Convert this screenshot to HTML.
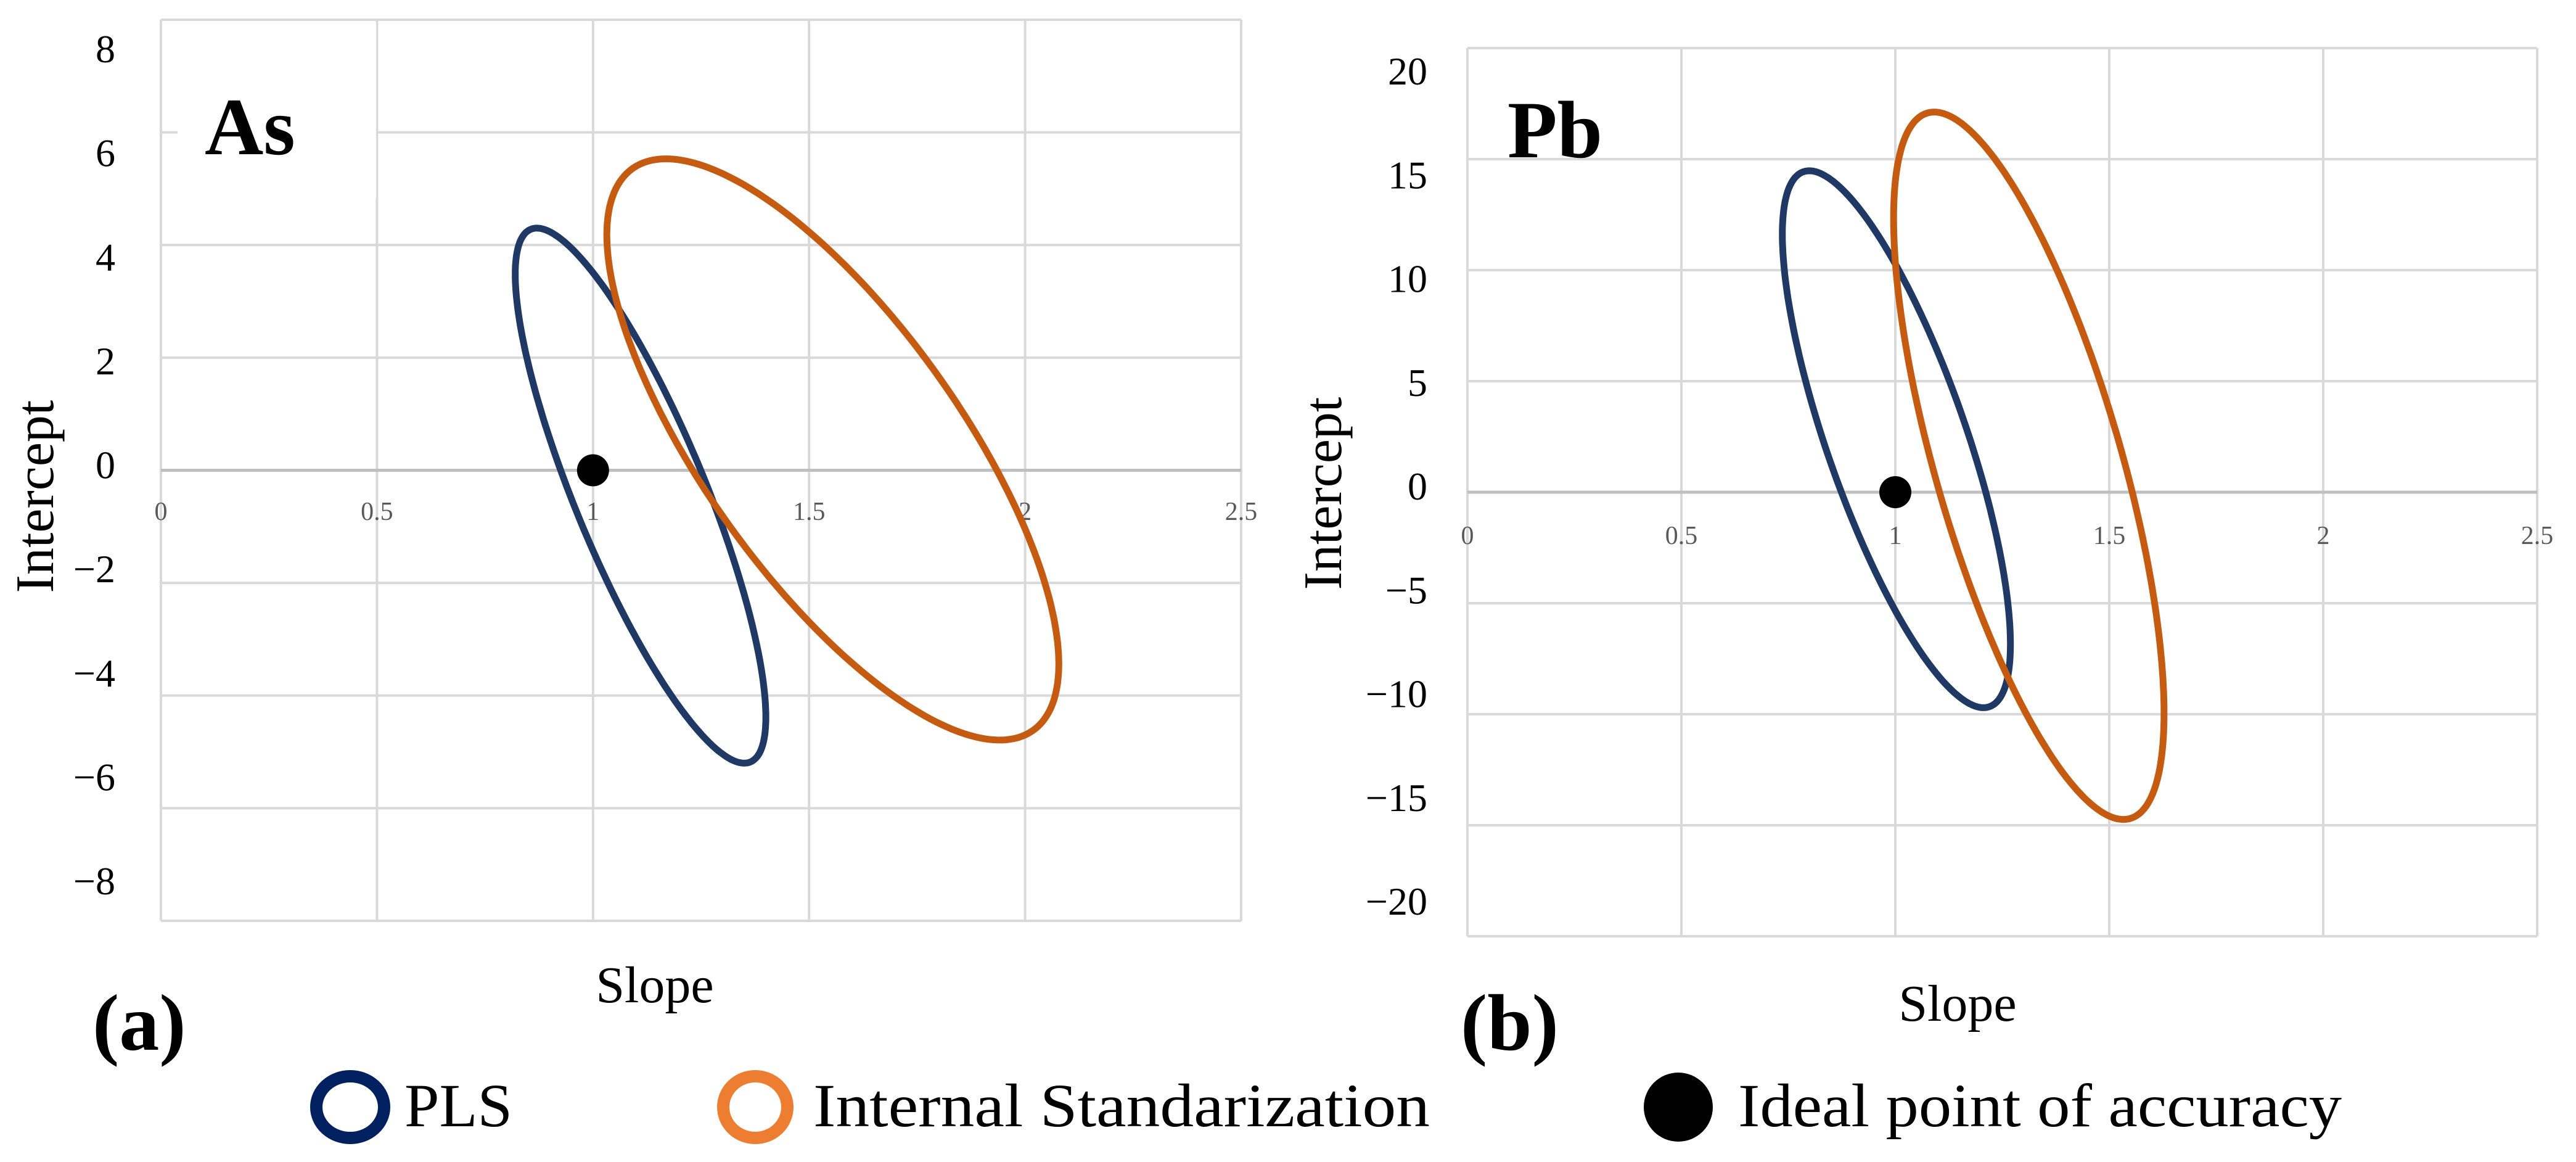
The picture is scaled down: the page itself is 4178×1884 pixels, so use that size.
<!DOCTYPE html>
<html><head><meta charset="utf-8"><style>
html,body{margin:0;padding:0;background:#fff;}
svg{display:block;}
text{font-family:"Liberation Serif",serif;}
</style></head><body>
<svg id="fig" width="4178" height="1884" viewBox="0 0 4178 1884" xmlns="http://www.w3.org/2000/svg">
<rect width="4178" height="1884" fill="#fff"/>
<g id="legend">
 <g>
  <ellipse cx="568" cy="1795" rx="55" ry="50" fill="none" stroke="#002060" stroke-width="20"/>
  <text x="656" y="1826" font-size="100" textLength="175" lengthAdjust="spacingAndGlyphs" fill="#000">PLS</text>
 </g>
 <g>
  <ellipse cx="1225" cy="1795" rx="52" ry="50" fill="none" stroke="#ed7d31" stroke-width="20"/>
  <text x="1319" y="1826" font-size="100" textLength="1000" lengthAdjust="spacingAndGlyphs" fill="#000">Internal Standarization</text>
 </g>
 <g>
  <circle cx="2722" cy="1795" r="56" fill="#000"/>
  <text x="2819" y="1826" font-size="100" textLength="979" lengthAdjust="spacingAndGlyphs" fill="#000">Ideal point of accuracy</text>
 </g>
</g>
</svg>
<script>
const xTicks = [0, 0.5, 1, 1.5, 2, 2.5];
const xTickLabels = ["0", "0.5", "1", "1.5", "2", "2.5"];
const asYTicks = [8, 6, 4, 2, 0, -2, -4, -6, -8];
const asYTickLabels = ["8", "6", "4", "2", "0", "\u22122", "\u22124", "\u22126", "\u22128"];
const pbYTicks = [20, 15, 10, 5, 0, -5, -10, -15, -20];
const pbYTickLabels = ["20", "15", "10", "5", "0", "\u22125", "\u221210", "\u221215", "\u221220"];
// ellipse: [centerSlope, centerIntercept, halfWidthSlope, halfHeightIntercept, slopeAtTop]
const asPlsEllipse = [1.11, -0.45, 0.29, 4.75, 0.87];
const asIsEllipse = [1.555, 0.37, 0.523, 5.16, 1.169];
const pbPlsEllipse = [1.0025, 2.385, 0.2665, 12.09, 0.799];
const pbIsEllipse = [1.312, 1.19, 0.316, 15.93, 1.091];
const idealPoint = [1, 0];

const NS = "http://www.w3.org/2000/svg";
const svg = document.getElementById("fig");
function mk(tag, attrs, parent) {
  const e = document.createElementNS(NS, tag);
  for (const k in attrs) e.setAttribute(k, attrs[k]);
  (parent || svg).appendChild(e);
  return e;
}

function drawPanel(cfg) {
  const g = mk("g", {});
  
  
  const X = v => cfg.left + (v - 0) / 2.5 * (cfg.right - cfg.left);
  const Y = v => cfg.top + (cfg.yMax - v) / (cfg.yMax - cfg.yMin) * (cfg.bottom - cfg.top);
  cfg.yTicks.forEach(v => {
    if (v === 0) return;
    const l = mk("line", {x1: cfg.left, x2: cfg.right, y1: Y(v), y2: Y(v), stroke: "#d9d9d9", "stroke-width": 4}, g);
    
    
  });
  xTicks.forEach(v => {
    const l = mk("line", {x1: X(v), x2: X(v), y1: cfg.top, y2: cfg.bottom, stroke: "#d9d9d9", "stroke-width": 4}, g);
    
    
  });
  const box = mk("rect", {x: cfg.box[0], y: cfg.box[1], width: cfg.box[2], height: cfg.box[3], fill: "#fff"}, g);
  
  
  const ax = mk("line", {x1: cfg.left, x2: cfg.right, y1: Y(0), y2: Y(0), stroke: "#bfbfbf", "stroke-width": 5}, g);
  
  
  cfg.yTickLabels.forEach((t, i) => {
    const y = cfg.labTop + i * (cfg.labBot - cfg.labTop) / (cfg.yTickLabels.length - 1);
    const e = mk("text", {x: cfg.labRight, y: y + 23, "text-anchor": "end", "font-size": 64, fill: "#000"}, g);
    e.textContent = t;
    
    
  });
  xTicks.forEach((v, i) => {
    const e = mk("text", {x: X(v), y: cfg.xLabY + 15, "text-anchor": "middle", "font-size": 42, fill: "#595959"}, g);
    e.textContent = xTickLabels[i];
    
    
  });
  cfg.ellipses.forEach(([p, color, nm]) => {
    const [cx, cy, a, b, topX] = p;
    const phi = Math.acos(Math.max(-1, Math.min(1, (topX - cx) / a)));
    let d = "";
    for (let i = 0; i <= 240; i++) {
      const t = i / 240 * 2 * Math.PI;
      const x = cx + a * Math.cos(t), y = cy + b * Math.cos(t - phi);
      d += (i ? "L" : "M") + X(x).toFixed(1) + "," + Y(y).toFixed(1);
    }
    const e = mk("path", {d: d + "Z", fill: "none", stroke: color, "stroke-width": 11, "stroke-linejoin": "round"}, g);
    
    
  });
  const dot = mk("circle", {cx: X(idealPoint[0]), cy: Y(idealPoint[1]), r: 26, fill: "#000"}, g);
  
  
  const ti = mk("text", {x: cfg.titleX, y: cfg.titleY, "font-size": 132, "font-weight": "bold", fill: "#000"}, g);
  ti.textContent = cfg.title;
  
  
  const sl = mk("text", {x: cfg.slopeX, y: cfg.slopeY, "text-anchor": "middle", "font-size": 84, fill: "#000"}, g);
  sl.textContent = "Slope";
  
  
  const ic = mk("text", {x: 0, y: 0, "text-anchor": "middle", "font-size": 88, fill: "#000", transform: `translate(${cfg.intX},${cfg.intY}) rotate(-90)`}, g);
  ic.textContent = "Intercept";
  
  
  const pl = mk("text", {x: cfg.tagX, y: 1702, "font-size": 130, "font-weight": "bold", fill: "#000"}, g);
  pl.textContent = cfg.tag;
  
  
}

drawPanel({name: "panel-a-as", left: 261, right: 2013, top: 32, bottom: 1493, yMax: 8, yMin: -8,
  yTicks: asYTicks, yTickLabels: asYTickLabels, labTop: 78, labBot: 1427, labRight: 187, xLabY: 828,
  box: [288, 36, 322, 287], title: "As", titleX: 332, titleY: 250,
  ellipses: [[asPlsEllipse, "#203864", "ellipse-pls"], [asIsEllipse, "#c55a11", "ellipse-internal-standarization"]],
  slopeX: 1062, slopeY: 1625, intX: 86, intY: 805, tag: "(a)", tagX: 150});
drawPanel({name: "panel-b-pb", left: 2380, right: 4115, top: 78, bottom: 1518, yMax: 20, yMin: -20,
  yTicks: pbYTicks, yTickLabels: pbYTickLabels, labTop: 114, labBot: 1460, labRight: 2315, xLabY: 867,
  box: [2396, 82, 302, 172], title: "Pb", titleX: 2445, titleY: 255,
  ellipses: [[pbPlsEllipse, "#203864", "ellipse-pls"], [pbIsEllipse, "#c55a11", "ellipse-internal-standarization"]],
  slopeX: 3175, slopeY: 1655, intX: 2175, intY: 800, tag: "(b)", tagX: 2369});
</script>
</body></html>
